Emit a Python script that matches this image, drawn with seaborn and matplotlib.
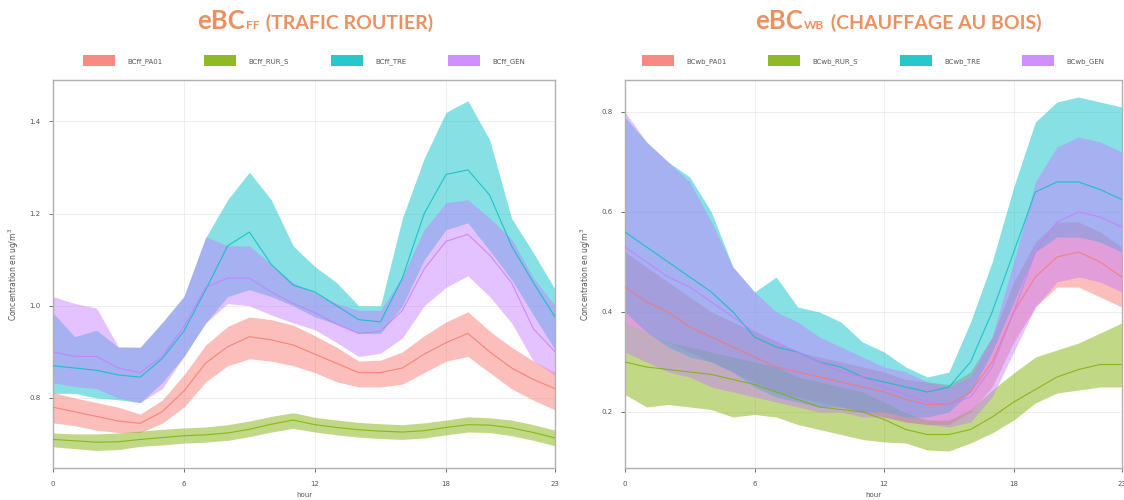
import numpy as np
import pandas as pd
import matplotlib
matplotlib.use("Agg")
import matplotlib.pyplot as plt
import seaborn as sns
from matplotlib.patches import Patch
from matplotlib.offsetbox import TextArea, HPacker, AnchoredOffsetbox

hours = list(range(24))

# ---- eBC fossil fuel (traffic) : hourly means and confidence bands ----
ff_sites = ["BCff_PA01", "BCff_RUR_S", "BCff_TRE", "BCff_GEN"]
ff_pa01_mean = [0.78, 0.77, 0.76, 0.75, 0.745, 0.77, 0.815, 0.876, 0.911, 0.933, 0.926, 0.915,
                0.895, 0.875, 0.855, 0.855, 0.865, 0.895, 0.92, 0.94, 0.90, 0.865, 0.84, 0.82]
ff_pa01_low = [0.746, 0.74, 0.73, 0.725, 0.725, 0.745, 0.78, 0.835, 0.87, 0.885, 0.88, 0.87,
               0.855, 0.835, 0.824, 0.824, 0.83, 0.855, 0.88, 0.89, 0.855, 0.82, 0.795, 0.774]
ff_pa01_high = [0.812, 0.80, 0.79, 0.78, 0.765, 0.795, 0.85, 0.915, 0.955, 0.976, 0.97, 0.958,
                0.935, 0.91, 0.88, 0.882, 0.9, 0.935, 0.965, 0.987, 0.945, 0.91, 0.88, 0.855]

ff_rur_mean = [0.71, 0.707, 0.704, 0.705, 0.71, 0.714, 0.718, 0.72, 0.724, 0.732, 0.743, 0.752,
               0.742, 0.736, 0.731, 0.728, 0.726, 0.729, 0.736, 0.742, 0.741, 0.735, 0.725, 0.713]
ff_rur_low = [0.694, 0.69, 0.686, 0.688, 0.695, 0.698, 0.702, 0.704, 0.708, 0.716, 0.726, 0.734,
              0.726, 0.72, 0.715, 0.712, 0.71, 0.713, 0.72, 0.726, 0.725, 0.718, 0.708, 0.696]
ff_rur_high = [0.724, 0.722, 0.722, 0.724, 0.728, 0.732, 0.735, 0.737, 0.742, 0.75, 0.76, 0.768,
               0.758, 0.752, 0.747, 0.744, 0.742, 0.746, 0.752, 0.759, 0.757, 0.752, 0.742, 0.73]

ff_tre_mean = [0.87, 0.865, 0.86, 0.85, 0.845, 0.885, 0.945, 1.035, 1.13, 1.16, 1.09, 1.045,
               1.03, 1.0, 0.97, 0.965, 1.06, 1.2, 1.285, 1.295, 1.24, 1.13, 1.05, 0.975]
ff_tre_low = [0.81, 0.81, 0.80, 0.796, 0.79, 0.833, 0.89, 0.963, 1.02, 1.035, 1.02, 1.0,
              0.976, 0.96, 0.94, 0.94, 1.0, 1.1, 1.165, 1.18, 1.12, 1.057, 0.98, 0.904]
ff_tre_high = [0.985, 0.933, 0.947, 0.91, 0.91, 0.963, 1.02, 1.148, 1.23, 1.29, 1.23, 1.13,
               1.085, 1.05, 1.0, 1.0, 1.19, 1.32, 1.42, 1.445, 1.36, 1.19, 1.115, 1.035]

ff_gen_mean = [0.90, 0.89, 0.89, 0.865, 0.855, 0.89, 0.955, 1.04, 1.06, 1.06, 1.03, 1.005,
               0.985, 0.96, 0.94, 0.945, 0.99, 1.08, 1.14, 1.155, 1.11, 1.05, 0.95, 0.90]
ff_gen_low = [0.833, 0.825, 0.82, 0.80, 0.79, 0.82, 0.89, 0.963, 1.005, 1.0, 0.98, 0.963,
              0.948, 0.92, 0.89, 0.897, 0.93, 1.0, 1.04, 1.065, 1.02, 0.963, 0.88, 0.85]
ff_gen_high = [1.02, 1.005, 0.995, 0.911, 0.91, 0.963, 1.02, 1.15, 1.13, 1.13, 1.09, 1.05,
               1.028, 1.005, 0.99, 0.99, 1.063, 1.165, 1.224, 1.23, 1.19, 1.145, 1.06, 1.0]

# ---- eBC wood burning (residential heating) ----
wb_sites = ["BCwb_PA01", "BCwb_RUR_S", "BCwb_TRE", "BCwb_GEN"]
wb_pa01_mean = [0.45, 0.42, 0.40, 0.37, 0.35, 0.33, 0.31, 0.29, 0.28, 0.27, 0.26, 0.25,
                0.24, 0.225, 0.215, 0.215, 0.24, 0.30, 0.40, 0.47, 0.51, 0.52, 0.50, 0.47]
wb_pa01_low = [0.38, 0.36, 0.34, 0.32, 0.30, 0.28, 0.26, 0.24, 0.23, 0.22, 0.21, 0.20,
               0.19, 0.18, 0.175, 0.175, 0.20, 0.25, 0.34, 0.41, 0.45, 0.45, 0.43, 0.41]
wb_pa01_high = [0.52, 0.49, 0.46, 0.43, 0.40, 0.38, 0.36, 0.34, 0.32, 0.31, 0.30, 0.29,
                0.28, 0.265, 0.26, 0.255, 0.28, 0.35, 0.46, 0.54, 0.58, 0.58, 0.56, 0.53]

wb_rur_mean = [0.30, 0.29, 0.285, 0.28, 0.275, 0.265, 0.255, 0.24, 0.225, 0.21, 0.205, 0.20,
               0.185, 0.165, 0.155, 0.155, 0.165, 0.19, 0.22, 0.245, 0.27, 0.285, 0.295, 0.295]
wb_rur_low = [0.235, 0.21, 0.215, 0.21, 0.205, 0.19, 0.195, 0.19, 0.175, 0.165, 0.155, 0.145,
              0.14, 0.138, 0.124, 0.122, 0.138, 0.158, 0.184, 0.218, 0.238, 0.244, 0.25, 0.25]
wb_rur_high = [0.38, 0.36, 0.34, 0.33, 0.32, 0.31, 0.30, 0.29, 0.27, 0.26, 0.25, 0.24,
               0.22, 0.198, 0.184, 0.184, 0.204, 0.244, 0.278, 0.31, 0.324, 0.338, 0.358, 0.378]

wb_tre_mean = [0.56, 0.53, 0.50, 0.47, 0.44, 0.40, 0.35, 0.33, 0.32, 0.30, 0.29, 0.27,
               0.26, 0.25, 0.24, 0.25, 0.30, 0.40, 0.52, 0.64, 0.66, 0.66, 0.645, 0.625]
wb_tre_low = [0.40, 0.36, 0.33, 0.31, 0.30, 0.28, 0.25, 0.23, 0.22, 0.21, 0.21, 0.20,
              0.20, 0.19, 0.19, 0.20, 0.24, 0.32, 0.42, 0.52, 0.55, 0.55, 0.54, 0.52]
wb_tre_high = [0.79, 0.74, 0.70, 0.67, 0.60, 0.49, 0.44, 0.47, 0.41, 0.40, 0.38, 0.34,
               0.32, 0.29, 0.27, 0.28, 0.38, 0.50, 0.65, 0.78, 0.82, 0.83, 0.82, 0.81]

wb_gen_mean = [0.53, 0.50, 0.47, 0.45, 0.42, 0.39, 0.36, 0.34, 0.32, 0.30, 0.28, 0.27,
               0.25, 0.235, 0.22, 0.215, 0.23, 0.29, 0.40, 0.52, 0.58, 0.60, 0.59, 0.57]
wb_gen_low = [0.32, 0.30, 0.28, 0.27, 0.25, 0.24, 0.23, 0.22, 0.21, 0.20, 0.20, 0.19,
              0.19, 0.18, 0.175, 0.17, 0.18, 0.23, 0.32, 0.41, 0.46, 0.47, 0.46, 0.44]
wb_gen_high = [0.80, 0.74, 0.70, 0.66, 0.58, 0.49, 0.44, 0.40, 0.38, 0.35, 0.33, 0.31,
               0.29, 0.28, 0.26, 0.25, 0.27, 0.35, 0.50, 0.66, 0.73, 0.75, 0.74, 0.72]

palette = ["#F8766D", "#7CAE00", "#00BFC4", "#C77CFF"]
title_color = "#EC9060"
text_color = "#555555"

ff_series = [(ff_pa01_mean, ff_pa01_low, ff_pa01_high), (ff_rur_mean, ff_rur_low, ff_rur_high),
             (ff_tre_mean, ff_tre_low, ff_tre_high), (ff_gen_mean, ff_gen_low, ff_gen_high)]
wb_series = [(wb_pa01_mean, wb_pa01_low, wb_pa01_high), (wb_rur_mean, wb_rur_low, wb_rur_high),
             (wb_tre_mean, wb_tre_low, wb_tre_high), (wb_gen_mean, wb_gen_low, wb_gen_high)]


def to_frame(sites, series):
    rows = []
    for site, (mean, low, high) in zip(sites, series):
        for h, m, lo, hi in zip(hours, mean, low, high):
            rows.append({"hour": h, "site": site, "mean": m, "low": lo, "high": hi})
    return pd.DataFrame(rows)


sns.set_theme(style="whitegrid")
plt.rcParams["font.family"] = ["DejaVu Sans"]

fig = plt.figure(figsize=(11.24, 5.0), dpi=100)
ax_ff = fig.add_axes([0.047, 0.064, 0.447, 0.776])
ax_wb = fig.add_axes([0.556, 0.064, 0.442, 0.776])


def draw_panel(ax, sites, series, ylim, yticks):
    df = to_frame(sites, series)
    for site, color in zip(sites, palette):
        d = df[df["site"] == site]
        ax.fill_between(d["hour"], d["low"], d["high"], color=color, alpha=0.47,
                        linewidth=0, zorder=2)
    sns.lineplot(data=df, x="hour", y="mean", hue="site", hue_order=sites,
                 palette=palette, ax=ax, linewidth=0.8, alpha=0.8, legend=False,
                 zorder=3)
    ax.set_xlim(0, 23)
    ax.set_ylim(*ylim)
    ax.set_xticks([0, 6, 12, 18, 23])
    ax.set_yticks(yticks)
    ax.set_yticklabels([f"{v:.1f}" for v in yticks])
    ax.set_xlabel("hour", fontsize=5, color=text_color, labelpad=4)
    ax.set_ylabel("Concentration en ug/m$^3$", fontsize=5.5, color=text_color, labelpad=6)
    ax.tick_params(axis="both", labelsize=5, colors=text_color, length=3, width=0.6,
                   direction="out", bottom=True, left=True, pad=6)
    ax.grid(True, color="#EBEBEB", linewidth=0.6)
    for sp in ax.spines.values():
        sp.set_color("#B0B0B0")
        sp.set_linewidth(1.0)
    ax.set_facecolor("white")
    handles = [Patch(facecolor=c, edgecolor="none", alpha=0.85) for c in palette]
    ax.legend(handles, sites, loc="lower center", bbox_to_anchor=(0.5, 1.02), ncol=4,
              frameon=False, fontsize=5, handlelength=4.6, handleheight=2.0,
              columnspacing=6.0, handletextpad=1.8, labelcolor=text_color)


draw_panel(ax_ff, ff_sites, ff_series, (0.648, 1.49), [0.8, 1.0, 1.2, 1.4])
draw_panel(ax_wb, wb_sites, wb_series, (0.088, 0.864), [0.2, 0.4, 0.6, 0.8])


def add_title(main, sub, rest, x):
    props_big = dict(color=title_color, fontsize=18.5, fontweight="bold", family="Lato")
    props_sub = dict(color=title_color, fontsize=8.5, fontweight="bold", family="Lato")
    props_mid = dict(color=title_color, fontsize=14, fontweight="bold", family="Lato")
    box = HPacker(children=[TextArea(main, textprops=props_big),
                            TextArea(sub, textprops=props_sub),
                            TextArea(rest, textprops=props_mid)],
                  align="baseline", pad=0, sep=1)
    anchored = AnchoredOffsetbox(loc="center", child=box, pad=0, frameon=False,
                                 bbox_to_anchor=(x, 0.958), bbox_transform=fig.transFigure,
                                 borderpad=0)
    fig.add_artist(anchored)


add_title("eBC", "FF", " (TRAFIC ROUTIER)", 0.28)
add_title("eBC", "WB", " (CHAUFFAGE AU BOIS)", 0.799)

fig.savefig("out.png", dpi=100, facecolor="white")
